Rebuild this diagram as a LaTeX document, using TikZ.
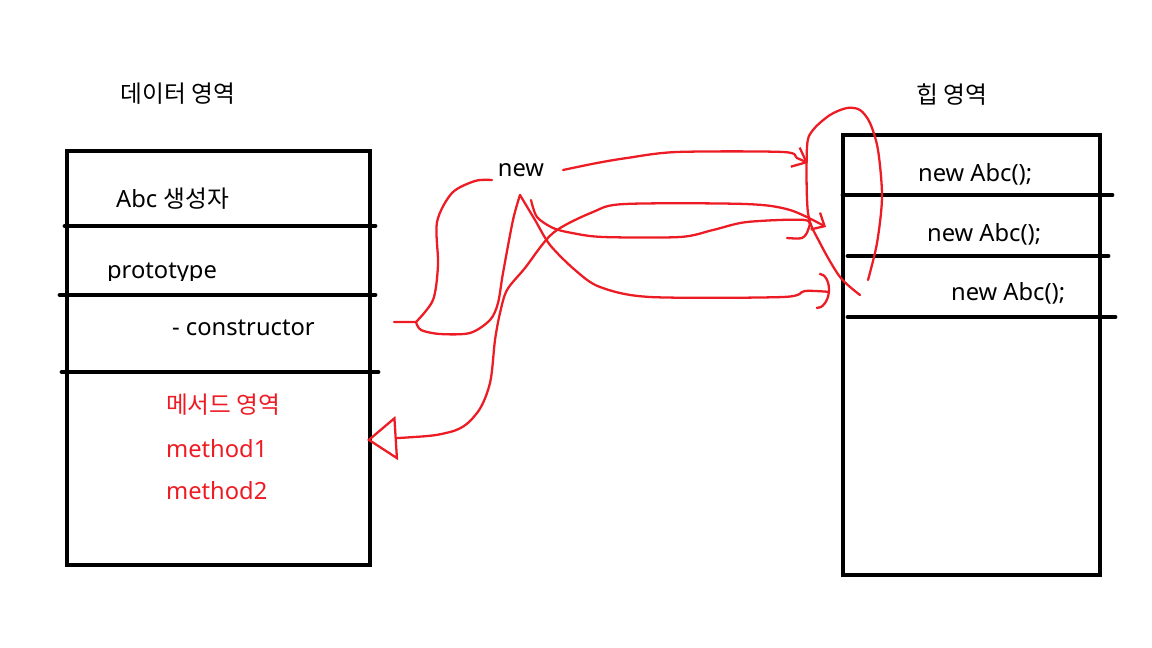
\documentclass[tikz,border=0pt]{standalone}
\usepackage{fontspec}
\setmainfont{Noto Sans}
\newfontfamily\kr{Noto Sans CJK KR}
\usepackage{tikz}
\usetikzlibrary{arrows.meta}
\definecolor{PaintRed}{RGB}{237,28,36}
\tikzset{
  % heavy black strokes of the two memory areas
  frame/.style={line width=2.8pt},
  divider/.style={line width=2.8pt,line cap=round},
  % red freehand strokes
  scrawl/.style={PaintRed,line width=1.3pt,line join=round,line cap=round},
  barb/.style={-{Straight Barb[length=7pt,width=12pt]}},
  % labels
  txt/.style={font=\fontsize{13.5}{16}\selectfont,inner sep=1pt},
  redtxt/.style={txt,text=PaintRed},
}

\begin{document}
\begin{tikzpicture}[x=0.02cm,y=-0.02cm]
  \useasboundingbox (0,0) rectangle (1152,648);
  % data area
  \node[txt] (datahead) at (178,94) {\kr 데이터 영역};
  \draw[frame] (67,151) rectangle (370,565);
  \draw[divider] (65,226) -- (375,226)
                 (60,295) -- (375,295)
                 (62,372) -- (378,372);
  \node[txt,anchor=west] (ctorname) at (114,199) {Abc {\kr 생성자}};
  \begin{scope}
    \clip (100,250) rectangle (230,281);
    \node[txt,anchor=base west] (proto) at (105,279) {prototype};
  \end{scope}
  \node[txt,anchor=west] (ctor) at (170,328) {- constructor};
  \node[redtxt,anchor=west] (methods) at (164,405) {\kr 메서드 영역};
  \node[redtxt,anchor=west] (m1) at (164,449) {method1};
  \node[redtxt,anchor=west] (m2) at (164,491) {method2};
  % heap area
  \node[txt] (heaphead) at (952,95) {\kr 힙 영역};
  \draw[frame] (843,135) rectangle (1100,575);
  \draw[divider] (843,195) -- (1112,195)
                 (848,256) -- (1108,256)
                 (848,317) -- (1115,317);
  \node[txt,anchor=west] (obj1) at (916,174) {new Abc();};
  \node[txt,anchor=west] (obj2) at (925,234) {new Abc();};
  \node[txt,anchor=west] (obj3) at (949,293) {new Abc();};
  % keyword in between
  \node[txt] (newkw) at (521,170) {new};
  % loose ends of the strokes
  \coordinate (ctorout) at (394,322);
  \coordinate (fork) at (416,322);
  \coordinate (newin) at (492,180);
  \coordinate (newfoot) at (520,195);
  \coordinate (newfoot2) at (531,200);
  \coordinate (newout) at (563,170);
  \coordinate (methodsin) at (367,440);
  \coordinate (slot1) at (808,163);
  \coordinate (slot2) at (826,227);
  \coordinate (slot2b) at (787,238);
  \coordinate (slot3) at (830,292);
  % constructor -> new
  \draw[scrawl] (ctorout) -- plot[smooth] coordinates {(fork) (433,300) (438,265) (437,222) (452,193) (475,181) (newin)};
  \draw[scrawl] plot[smooth] coordinates {(fork) (421,330) (440,334) (470,333) (490,320) (498,303) (503,273) (513,220) (newfoot)};
  % new -> method area
  \draw[scrawl,{Triangle[open,length=17pt,width=25pt]}-{Straight Barb[length=6pt,width=11pt]}]
    plot[smooth] coordinates {(methodsin) (450,432) (477,413) (490,383) (495,340) (500,313) (507,290) (525,268) (553,233) (593,212) (625,204) (745,204) (790,210) (slot2)};
  % new -> heap objects
  \draw[scrawl,barb] plot[smooth] coordinates {(newout) (597,163) (627,158) (677,152) (783,152) (797,158) (slot1)};
  \draw[scrawl] plot[smooth] coordinates {(newfoot2) (537,217) (553,228) (572,233) (603,237) (680,237) (713,230) (747,222) (805,220) (808,230) (802,238) (slot2b)};
  \draw[scrawl,-{Arc Barb[length=7pt,width=21pt]}] plot[smooth] coordinates {(newfoot) (535,220) (550,245) (575,270) (600,287) (650,297) (783,297) (805,291) (slot3)};
  % lasso round the three heads
  \draw[scrawl] plot[smooth] coordinates {(868,280) (877,243) (882,197) (878,150) (870,123) (860,110) (847,108) (830,115) (813,130) (807,147) (808,213) (820,243) (840,277) (860,295)};
\end{tikzpicture}
\end{document}
